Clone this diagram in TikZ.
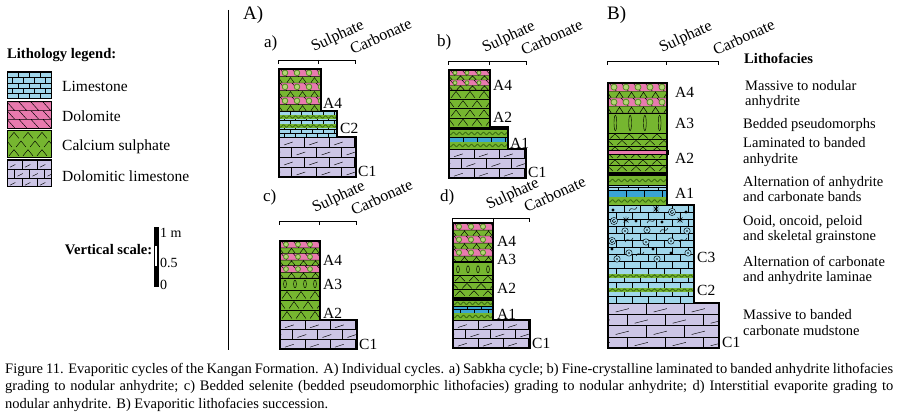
\documentclass[tikz,border=0pt]{standalone}
\usepackage{fontspec}
\setmainfont{Liberation Serif}
\usetikzlibrary{positioning}

\definecolor{limeblue}{RGB}{160,214,234}
\definecolor{bandblue}{RGB}{58,164,212}
\definecolor{dolopink}{RGB}{232,122,174}
\definecolor{sulgreen}{RGB}{118,182,48}
\definecolor{nodgreen}{RGB}{178,214,116}
\definecolor{nodring}{RGB}{86,140,36}
\definecolor{dollav}{RGB}{204,197,229}
\definecolor{wavegreen}{RGB}{62,112,18}

\tikzset{
  pat/.style={draw=black, line width=0.45pt},
  rim/.style={draw=black, line width=1.3pt},
  wavel/.style={draw=wavegreen, line width=1pt},
  nodule/.style={fill=nodgreen, draw=nodring, line width=0.8pt},
  scaleline/.style={draw=black, line width=0.8pt},
  lab/.style={font=\fontsize{15.5}{16}\selectfont, anchor=west, inner sep=0pt},
  legtxt/.style={font=\fontsize{15.5}{16}\selectfont, anchor=west, inner sep=0pt},
  txt/.style={font=\fontsize{14.5}{15.5}\selectfont, anchor=west, inner sep=0pt, align=left},
  headtxt/.style={font=\fontsize{14.6}{15.5}\selectfont\bfseries, anchor=west, inner sep=0pt},
  small/.style={font=\fontsize{14}{14}\selectfont, anchor=west, inner sep=0pt},
  tilt/.style={font=\fontsize{16}{16}\selectfont, anchor=base west, inner sep=0pt, rotate=25},
  panel/.style={font=\fontsize{19}{19}\selectfont, anchor=west, inner sep=0pt},
  sub/.style={font=\fontsize{17}{17}\selectfont, anchor=west, inner sep=0pt},
  capt/.style={font=\fontsize{14.5}{17.5}\selectfont, anchor=north west, inner sep=0pt,
    text width=888pt, align=justify},
}

%% brick fill: x1 y1 x2 y2 rowheight brickwidth colour
\newcommand{\bricks}[7]{%
  \begin{scope}
    \clip (#1,#2) rectangle (#3,#4);
    \fill[#7] (#1,#2) rectangle (#3,#4);
    \pgfmathtruncatemacro{\nrows}{(#4-#2)/#5}
    \pgfmathtruncatemacro{\ncols}{(#3-#1)/#6+1}
    \draw[pat] \foreach \rr in {0,...,\nrows}{
      (#1,{#2+\rr*#5}) -- (#3,{#2+\rr*#5})
      \foreach \kk in {0,...,\ncols}{ ({#1+mod(\rr,2)*#6/2+\kk*#6},{#2+\rr*#5}) -- ++(0,#5) } };
  \end{scope}}

%% dolomitic limestone: bricks with a small stroke
\newcommand{\dollime}[6]{%
  \bricks{#1}{#2}{#3}{#4}{#5}{#6}{dollav}
  \begin{scope}
    \clip (#1,#2) rectangle (#3,#4);
    \pgfmathtruncatemacro{\nrows}{(#4-#2)/#5}
    \pgfmathtruncatemacro{\ncols}{(#3-#1)/#6+1}
    \draw[pat] \foreach \rr in {0,...,\nrows}{ \foreach \kk in {-1,...,\ncols}{
      ({#1+mod(\rr,2)*#6/2+(\kk+0.2)*#6},{#2+(\rr+0.8)*#5}) -- ++({0.35*#6},{-0.3*#5}) } };
  \end{scope}}

%% dolomite: pink with hatches
\newcommand{\dolo}[6]{%
  \begin{scope}
    \clip (#1,#2) rectangle (#3,#4);
    \fill[dolopink] (#1,#2) rectangle (#3,#4);
    \pgfmathtruncatemacro{\nrows}{(#4-#2)/#5}
    \pgfmathtruncatemacro{\ncols}{(#3-#1)/#6+1}
    \draw[pat] \foreach \rr in {0,...,\nrows}{
      (#1,{#2+\rr*#5}) -- (#3,{#2+\rr*#5})
      \foreach \kk in {-1,...,\ncols}{ ({#1+\kk*#6},{#2+\rr*#5}) -- ++({0.9*#5},#5) } };
  \end{scope}}

%% calcium sulphate: chevrons
\newcommand{\chevs}[7]{%
  \begin{scope}
    \clip (#1,#2) rectangle (#3,#4);
    \fill[#7] (#1,#2) rectangle (#3,#4);
    \pgfmathtruncatemacro{\nrows}{(#4-#2)/#5}
    \pgfmathtruncatemacro{\ncols}{(#3-#1)/#6+1}
    \draw[pat] \foreach \rr in {0,...,\nrows}{ \foreach \kk in {-1,...,\ncols}{
      ({#1+mod(\rr,2)*#6/2+(\kk+0.15)*#6},{#2+(\rr+0.85)*#5}) -- ++({0.35*#6},{-0.7*#5}) -- ++({0.35*#6},{0.7*#5}) } };
  \end{scope}}

%% laminated anhydrite: chevrons between lines
\newcommand{\lamin}[6]{%
  \chevs{#1}{#2}{#3}{#4}{#5}{#6}{sulgreen}
  \begin{scope}
    \clip (#1,#2) rectangle (#3,#4);
    \pgfmathtruncatemacro{\nrows}{(#4-#2)/#5}
    \draw[pat] \foreach \rr in {0,...,\nrows}{ (#1,{#2+\rr*#5}) -- (#3,{#2+\rr*#5}) };
  \end{scope}}

%% nodular anhydrite: pink and green bands with nodules
\newcommand{\nodular}[5]{%
  \begin{scope}
    \clip (#1,#2) rectangle (#3,#4);
    \fill[sulgreen] (#1,#2) rectangle (#3,#4);
    \pgfmathtruncatemacro{\nrows}{(#4-#2)/#5}
    \pgfmathtruncatemacro{\ncols}{(#3-#1)/12+1}
    \fill[dolopink] \foreach \rr in {0,...,\nrows}{ (#1,{#2+\rr*#5}) rectangle (#3,{#2+(\rr+0.55)*#5}) };
    \draw[pat] \foreach \rr in {0,...,\nrows}{
      (#1,{#2+\rr*#5}) -- (#3,{#2+\rr*#5}) (#1,{#2+(\rr+0.55)*#5}) -- (#3,{#2+(\rr+0.55)*#5})
      \foreach \kk in {-1,...,\ncols}{
        ({#1+\kk*12+1},{#2+\rr*#5}) -- ++({0.5*#5},{0.55*#5})
        ({#1+\kk*12+8},{#2+(\rr+1)*#5-0.5}) -- ++(3.5,{-0.35*#5}) -- ++(3.5,{0.35*#5}) } };
    \filldraw[nodule] \foreach \rr in {0,...,\nrows}{ \foreach \kk in {-1,...,\ncols}{
      ({#1+\kk*12+6},{#2+(\rr+0.275)*#5}) circle[radius={0.2*#5}] } };
  \end{scope}}

%% bedded pseudomorphs: upright ovals
\newcommand{\pseudo}[5]{%
  \begin{scope}
    \clip (#1,#2) rectangle (#3,#4);
    \fill[sulgreen] (#1,#2) rectangle (#3,#4);
    \pgfmathtruncatemacro{\ncols}{(#3-#1)/#5}
    \draw[pat] \foreach \kk in {0,...,\ncols}{
      ({#1+(\kk+0.5)*#5},{(#2+#4)/2}) ellipse[x radius=1.4, y radius={(#4-#2)/2-2.2}] };
  \end{scope}}

%% wavy anhydrite band
\newcommand{\wavy}[4]{%
  \begin{scope}
    \clip (#1,#2) rectangle (#3,#4);
    \fill[sulgreen] (#1,#2) rectangle (#3,#4);
    \draw[wavel] plot[domain=#1:#3, samples=60, smooth] (\x,{(#2+#4)/2+1.2*sin((\x-#1)*60)});
  \end{scope}}

%% grains
\newcommand{\ooid}[2]{\filldraw[pat, fill=limeblue] (#1,#2) circle[radius=3.2]; \fill (#1,#2) circle[radius=0.9];}
\newcommand{\pelo}[2]{\fill (#1,#2) circle[radius=1.7];}
\newcommand{\spir}[2]{\filldraw[pat, fill=limeblue] (#1,#2) circle[radius=3.6]; \draw[pat] (#1+1.8,#2) arc[start angle=0, end angle=300, radius=1.8];}
\newcommand{\astr}[2]{\draw[pat] (#1-3.5,#2) -- (#1+3.5,#2) (#1-2.5,#2-2.5) -- (#1+2.5,#2+2.5) (#1-2.5,#2+2.5) -- (#1+2.5,#2-2.5) (#1,#2-3.5) -- (#1,#2+3.5);}
\newcommand{\skel}[2]{\draw[pat] (#1-4,#2+2) .. controls (#1-1,#2-4) and (#1+1,#2+4) .. (#1+4,#2-2);}

%% scale bracket with the two labels: name L T R Y
\newcommand{\bracket}[5]{%
  \draw[scaleline] (#2,#5+4) -- (#2,#5) -- (#4,#5) -- (#4,#5+4) (#3,#5) -- (#3,#5+4);
  \node[tilt] (sul#1) at (#3-4,#5-8) {Sulphate};
  \node[tilt] (carb#1) at (#4-2,#5-5) {Carbonate};}

\begin{document}
\begin{tikzpicture}[x=1pt, y=-1pt]
  \useasboundingbox (0,0) rectangle (898,417);

  %% legend
  \node[headtxt] (legtitle) at (7,55) {Lithology legend:};
  \bricks{7}{72}{51}{99}{5.4}{11}{limeblue}
  \dolo{7}{102}{51}{128}{8.67}{12}
  \chevs{7}{131}{51}{157}{8.67}{14}{sulgreen}
  \dollime{7}{160}{51}{187}{9}{15}
  \foreach \yy in {72,102,131,160}
    \draw[line width=1pt] (7,\yy) rectangle (51,\yy+27);
  \node[legtxt] (leglime) at (62,86) {Limestone};
  \node[legtxt] (legdolo) at (62,116) {Dolomite};
  \node[legtxt] (legsul) at (62,147) {Calcium sulphate};
  \node[legtxt] (legdollime) at (62,176) {Dolomitic limestone};

  %% vertical scale
  \node[headtxt, anchor=east] (vscale) at (152.5,250) {Vertical scale:};
  \fill (154,227) rectangle (158.5,287);
  \fill[white] (155.3,246) rectangle (157.2,266);
  \node[small] (vtop) at (160,233) {1 m};
  \node[small] (vmid) at (160,263) {0.5};
  \node[small] (vbot) at (160,285) {0};

  \draw[line width=0.8pt] (228,10) -- (228,350); %% divider

  \node[panel] (panelA) at (243,15) {A)};
  \node[panel] (panelB) at (607,15) {B)};

  %% a) Sabkha cycle
  \node[sub] (suba) at (264,43) {a)};
  \bracket{a}{278}{318}{355}{60}
  \nodular{279}{69}{321}{111}{14}
  \bricks{279}{111}{337}{137}{4.5}{11}{limeblue}
  \wavy{279}{115}{337}{119}
  \wavy{279}{124}{337}{128}
  \dollime{279}{137}{356}{177}{10}{25}
  \draw[pat] (279,111) -- (337,111) (279,137) -- (356,137);
  \draw[rim] (279,69) -| (321,111) -| (337,137) -| (356,177) -- (279,177) -- cycle;
  \node[lab] (a4a) at (323,103) {A4};
  \node[lab] (c2a) at (340,128) {C2};
  \node[lab] (c1a) at (358,171) {C1};

  %% b) laminated to banded anhydrite
  \node[sub] (subb) at (437,42) {b)};
  \bracket{b}{448}{489}{526}{61}
  \nodular{449}{70}{490}{90}{10}
  \lamin{449}{90}{490}{127}{9.25}{14}
  \fill (449,127) rectangle (508,130);
  \wavy{449}{130}{508}{137}
  \bricks{449}{137}{508}{142}{5}{14}{bandblue}
  \wavy{449}{142}{508}{149}
  \dollime{449}{149}{526}{178}{9.7}{25}
  \draw[pat] (449,90) -- (490,90) (449,149) -- (526,149);
  \draw[rim] (449,70) -| (490,127) -| (508,149) -| (526,178) -- (449,178) -- cycle;
  \node[lab] (a4b) at (493,85) {A4};
  \node[lab] (a2b) at (493,117) {A2};
  \node[lab] (a1b) at (510,143) {A1};
  \node[lab] (c1b) at (528,172) {C1};

  %% c) bedded selenite
  \node[sub] (subc) at (263,197) {c)};
  \bracket{c}{279}{319}{356}{221}
  \nodular{280}{241}{320}{278}{12.33}
  \pseudo{280}{278}{320}{290}{10}
  \lamin{280}{290}{320}{320}{10}{14}
  \dollime{280}{320}{357}{349}{9.7}{25}
  \draw[pat] (280,278) -- (320,278) (280,290) -- (320,290) (280,320) -- (357,320);
  \draw[rim] (280,241) -| (320,320) -| (357,349) -- (280,349) -- cycle;
  \node[lab] (a4c) at (323,260) {A4};
  \node[lab] (a3c) at (323,284) {A3};
  \node[lab] (a2c) at (323,313) {A2};
  \node[lab] (c1c) at (359,344) {C1};

  %% d) interstitial evaporite
  \node[sub] (subd) at (440,197) {d)};
  \bracket{d}{452}{493}{529}{218}
  \nodular{453}{223}{493}{262}{13}
  \fill (453,261.5) rectangle (493,263.5);
  \pseudo{453}{263.5}{493}{275}{10}
  \lamin{453}{275}{493}{297}{7.3}{14}
  \fill (453,297) rectangle (493,300.5);
  \wavy{453}{300.5}{493}{306}
  \bricks{453}{306}{493}{313}{3.5}{14}{bandblue}
  \wavy{453}{313}{493}{320}
  \dollime{453}{320}{530}{348}{9.33}{25}
  \draw[pat] (453,275) -- (493,275) (453,320) -- (530,320);
  \draw[rim] (453,223) -| (493,320) -| (530,348) -- (453,348) -- cycle;
  \node[lab] (a4d) at (497,241) {A4};
  \node[lab] (a3d) at (497,259) {A3};
  \node[lab] (a2d) at (497,288) {A2};
  \node[lab] (a1d) at (497,314) {A1};
  \node[lab] (c1d) at (532,343) {C1};

  %% B) lithofacies succession
  \bracket{B}{607}{666}{718}{61}
  \nodular{608}{83}{667}{113}{15}
  \pseudo{608}{113}{667}{133}{14.75}
  \lamin{608}{133}{667}{172}{6.5}{14}
  \filldraw[pat, fill=dolopink] (608,150) rectangle (668.5,154);
  \fill (608,172) rectangle (667,176);
  \wavy{608}{176}{667}{185}
  \bricks{608}{185}{667}{190}{2.5}{20}{limeblue}
  \bricks{608}{190}{667}{197}{7}{18}{bandblue}
  \wavy{608}{197}{667}{205}
  \bricks{608}{205}{694}{303}{7}{16}{limeblue}
  \wavy{608}{274}{694}{278}
  \wavy{608}{288}{694}{292}
  \foreach \gx/\gy in {625/231,647/230,687/231,646/242,671/241,629/253,688/253,617/259,657/259}
    {\ooid{\gx}{\gy}}
  \foreach \gx/\gy in {613/210,686/212,636/221,662/222,612/249,653/249,671/253}
    {\pelo{\gx}{\gy}}
  \foreach \gx/\gy in {672/212,614/221,612/241}
    {\spir{\gx}{\gy}}
  \foreach \gx/\gy in {656/209,626/220,680/220}
    {\astr{\gx}{\gy}}
  \foreach \gx/\gy in {633/209,651/221,664/230,629/240,683/240,640/254}
    {\skel{\gx}{\gy}}
  \dollime{608}{303}{719}{348}{11.25}{38}
  \draw[pat] (608,113) -- (667,113) (608,133) -- (667,133) (608,205) -- (694,205) (608,303) -- (719,303);
  \draw[rim] (608,83) -| (667,205) -| (694,303) -| (719,348) -- (608,348) -- cycle;
  \node[lab] (a4B) at (675,92) {A4};
  \node[lab] (a3B) at (675,123) {A3};
  \node[lab] (a2B) at (675,158) {A2};
  \node[lab] (a1B) at (675,193) {A1};
  \node[lab] (c3B) at (697,257) {C3};
  \node[lab] (c2B) at (697,290) {C2};
  \node[lab] (c1B) at (722,342) {C1};

  %% lithofacies column
  \node[headtxt] (faciestitle) at (744,58) {Lithofacies};
  \node[txt] (facies1) at (745,94.5) {Massive to nodular\\anhydrite};
  \node[txt] (facies2) at (743,125) {Bedded pseudomorphs};
  \node[txt] (facies3) at (743,152) {Laminated to banded\\anhydrite};
  \node[txt] (facies4) at (743,189) {Alternation of anhydrite\\and carbonate bands};
  \node[txt] (facies5) at (743,229.5) {Ooid, oncoid, peloid\\and skeletal grainstone};
  \node[txt] (facies6) at (743,270.5) {Alternation of carbonate\\and anhydrite laminae};
  \node[txt] (facies7) at (743,322.5) {Massive to banded\\carbonate mudstone};

  %% caption
  \node[capt] (caption) at (5,363) {\hyphenpenalty=10000 Figure 11. Evaporitic cycles of the Kangan Formation. A) Individual cycles. a) Sabkha cycle; b) Fine-crystalline laminated to banded anhydrite lithofacies\linebreak grading to nodular anhydrite; c) Bedded selenite (bedded pseudomorphic lithofacies) grading to nodular anhydrite; d) Interstitial evaporite grading to\linebreak nodular anhydrite. B) Evaporitic lithofacies succession.};
\end{tikzpicture}
\end{document}
